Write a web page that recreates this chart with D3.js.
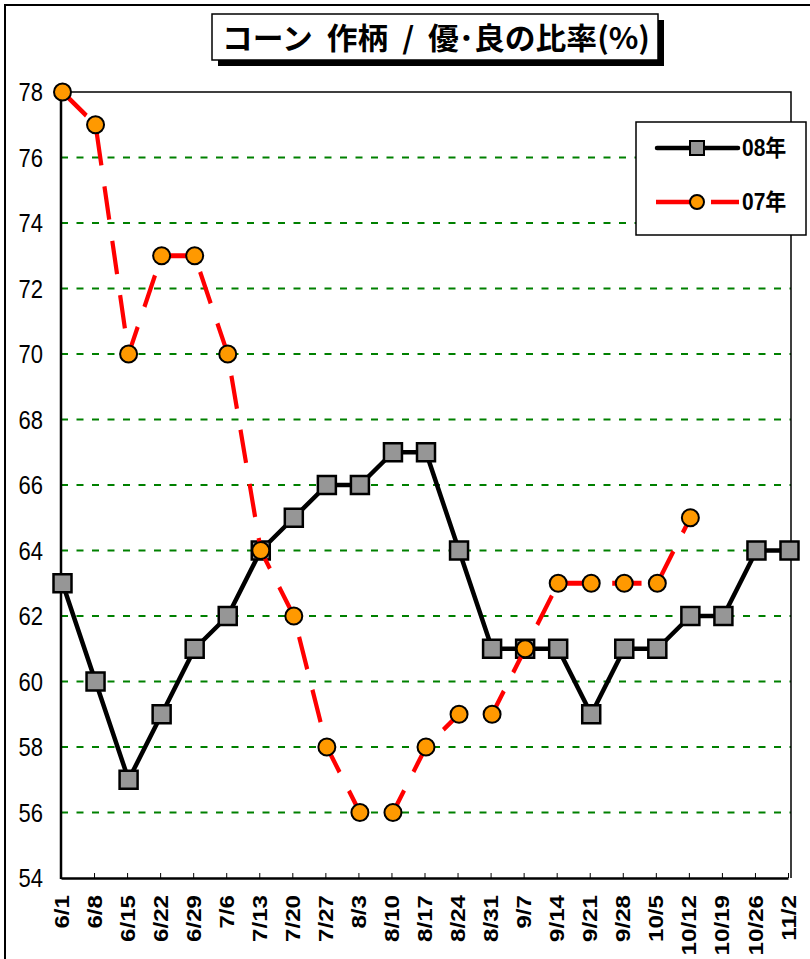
<!DOCTYPE html>
<html>
<head>
<meta charset="utf-8">
<script src="https://cdn.jsdelivr.net/npm/d3@7"></script>
<style>
    body { margin: 0; background: #fff; }
    svg { display: block; }
    .ylab { font-family: "Liberation Sans", Arial, sans-serif; font-size: 22px; }
    .xlab { font-family: "Liberation Sans", Arial, sans-serif; font-size: 21px; font-weight: bold; }
    .leg { font-family: "Liberation Sans", "Noto Sans CJK JP", sans-serif; font-size: 21px; font-weight: bold; }
</style>
</head>
<body>
<svg width="810" height="959"></svg>
<script>
// week labels on the x axis
var categories = ["6/1", "6/8", "6/15", "6/22", "6/29", "7/6", "7/13", "7/20", "7/27", "8/3", "8/10",
    "8/17", "8/24", "8/31", "9/7", "9/14", "9/21", "9/28", "10/5", "10/12", "10/19", "10/26", "11/2"];
var yTicks = [54, 56, 58, 60, 62, 64, 66, 68, 70, 72, 74, 76, 78];
var values08 = [63, 60, 57, 59, 61, 62, 64, 65, 66, 66, 67, 67, 64, 61, 61, 61, 59, 61, 61, 62, 62, 64, 64];
var values07 = [78, 77, 70, 73, 73, 70, 64, 62, 58, 56, 56, 58, 59, 59, 61, 63, 63, 63, 63, 65, null, null, null];
var seriesNames = ["08年", "07年"];
var titleText = "コーン  作柄  /  優･良の比率(%)";

var svg, plot, xScale, yScale;
var margin = {top: 92, right: 19, bottom: 81, left: 61};
var width, height;
// the original picture is a bit taller than it was drawn, text and dashes look stretched
var stretch = 1.15;

function initLayout() {
    svg = d3.select("svg");
    width = +svg.attr("width") - margin.left - margin.right;
    height = +svg.attr("height") - margin.top - margin.bottom;

    xScale = d3.scalePoint().domain(categories).range([1.5, width - 1.5]).padding(0);
    yScale = d3.scaleLinear().domain([54, 78]).range([height, 0]);

    // outer chart frame (runs off the right/bottom edge like the original)
    svg.append("rect")
        .attr("x", 5).attr("y", 5)
        .attr("width", 830).attr("height", 980)
        .attr("fill", "#fff")
        .attr("stroke", "#000")
        .attr("stroke-width", 2);

    plot = svg.append("g")
        .attr("transform", "translate(" + [margin.left, margin.top] + ")");
}

function drawTitle() {
    var bx = 212, by = 14, bw = 446, bh = 46;
    // shadow
    svg.append("rect")
        .attr("x", bx + 6).attr("y", by + 6)
        .attr("width", bw).attr("height", bh)
        .attr("fill", "#000");
    svg.append("rect")
        .attr("x", bx).attr("y", by)
        .attr("width", bw).attr("height", bh)
        .attr("fill", "#fff")
        .attr("stroke", "#000")
        .attr("stroke-width", 1.5);
    svg.append("text")
        .attr("transform", "translate(" + [bx + 10, by + 35] + ") scale(1," + stretch + ")")
        .attr("textLength", 428)
        .attr("lengthAdjust", "spacingAndGlyphs")
        .style("white-space", "pre")
        .style("font-family", "'Noto Sans CJK JP', sans-serif")
        .style("font-size", "26px")
        .style("font-weight", "bold")
        .text(titleText);
}

function drawAxes() {
    // y gridlines, green dashed
    plot.append("g")
        .selectAll("line")
        .data(yTicks.filter(function (d) { return d > 54 && d < 78; }))
        .enter().append("line")
        .attr("x1", 0).attr("x2", width)
        .attr("y1", function (d) { return yScale(d); })
        .attr("y2", function (d) { return yScale(d); })
        .attr("stroke", "#008000")
        .attr("stroke-width", 2.2)
        .attr("stroke-dasharray", "7,8.5");

    // top and right frame of the plot area
    plot.append("path")
        .attr("d", "M0,0H" + width + "V" + height)
        .attr("fill", "none")
        .attr("stroke", "#000")
        .attr("stroke-width", 1.5);

    // y labels
    plot.append("g")
        .selectAll("text")
        .data(yTicks)
        .enter().append("text")
        .attr("class", "ylab")
        .attr("transform", function (d) {
            return "translate(" + [-18, yScale(d)] + ") scale(1," + stretch + ")";
        })
        .attr("dy", "0.36em")
        .attr("text-anchor", "end")
        .text(function (d) { return d; });

    // x axis with ticks pointing up
    var xAxis = d3.axisBottom(xScale).tickSizeInner(-5).tickSizeOuter(0).tickFormat("");
    var xg = plot.append("g")
        .attr("transform", "translate(-1.5," + height + ")")
        .call(xAxis);
    xg.select(".domain").attr("stroke", "#000").attr("stroke-width", 2.5);
    xg.selectAll(".tick line").attr("stroke", "#000").attr("stroke-width", 1);

    plot.append("line")
        .attr("x1", 0).attr("x2", 0)
        .attr("y1", 0).attr("y2", height + 1)
        .attr("stroke", "#000")
        .attr("stroke-width", 2.5);

    plot.append("g")
        .selectAll("text")
        .data(categories)
        .enter().append("text")
        .attr("class", "xlab")
        .attr("transform", function (d) {
            return "translate(" + [xScale(d) - 1.5, height + 17] + ") rotate(-90) scale(" + stretch + ",1)";
        })
        .attr("dy", "0.36em")
        .attr("text-anchor", "end")
        .text(function (d) { return d; });
}

function plotData() {
    var pts08 = categories.map(function (c, i) { return {x: xScale(c), y: yScale(values08[i])}; });
    var pts07 = [];
    categories.forEach(function (c, i) {
        if (values07[i] != null) pts07.push({x: xScale(c), y: yScale(values07[i])});
    });

    plot.append("path")
        .datum(pts08)
        .attr("d", d3.line().x(function (d) { return d.x; }).y(function (d) { return d.y; }))
        .attr("fill", "none")
        .attr("stroke", "#000")
        .attr("stroke-width", 4.5)
        .attr("stroke-linejoin", "round");

    plot.selectAll(".sq")
        .data(pts08)
        .enter().append("rect")
        .attr("class", "sq")
        .attr("x", function (d) { return d.x - 9; })
        .attr("y", function (d) { return d.y - 9; })
        .attr("width", 18).attr("height", 18)
        .attr("fill", "#969696")
        .attr("stroke", "#000")
        .attr("stroke-width", 2.5);

    // 07: one continuous dashed path, drawn in the unstretched frame so the dashes line up
    plot.append("g")
        .attr("transform", "scale(1," + stretch + ")")
        .append("path")
        .datum(pts07)
        .attr("d", d3.line().x(function (d) { return d.x; }).y(function (d) { return d.y / stretch; }))
        .attr("fill", "none")
        .attr("stroke", "#ff0000")
        .attr("stroke-width", 4.2)
        .attr("stroke-dasharray", "29.3,18.6")
        .attr("stroke-dashoffset", 45.7);

    plot.selectAll(".cir")
        .data(pts07)
        .enter().append("circle")
        .attr("class", "cir")
        .attr("cx", function (d) { return d.x; })
        .attr("cy", function (d) { return d.y; })
        .attr("r", 8.5)
        .attr("fill", "#ff9900")
        .attr("stroke", "#000")
        .attr("stroke-width", 2);
}

function drawLegend() {
    var lg = svg.append("g").attr("transform", "translate(636,122)");
    lg.append("rect")
        .attr("width", 170).attr("height", 113)
        .attr("fill", "#fff")
        .attr("stroke", "#000")
        .attr("stroke-width", 1.5);

    // 08
    lg.append("line")
        .attr("x1", 21).attr("x2", 102).attr("y1", 26).attr("y2", 26)
        .attr("stroke", "#000").attr("stroke-width", 4.5).attr("stroke-linecap", "round");
    lg.append("rect")
        .attr("x", 61 - 7).attr("y", 26 - 7).attr("width", 14).attr("height", 14)
        .attr("fill", "#969696").attr("stroke", "#000").attr("stroke-width", 2);
    lg.append("text").attr("class", "leg")
        .attr("transform", "translate(106,26) scale(1,1.1)")
        .attr("dy", "0.36em")
        .text(seriesNames[0]);

    // 07
    lg.append("line")
        .attr("x1", 20).attr("x2", 103).attr("y1", 80).attr("y2", 80)
        .attr("stroke", "#ff0000").attr("stroke-width", 4.5)
        .attr("stroke-dasharray", "48,7,30,100");
    lg.append("circle")
        .attr("cx", 61).attr("cy", 80).attr("r", 7)
        .attr("fill", "#ff9900").attr("stroke", "#000").attr("stroke-width", 2);
    lg.append("text").attr("class", "leg")
        .attr("transform", "translate(106,80) scale(1,1.1)")
        .attr("dy", "0.36em")
        .text(seriesNames[1]);
}

initLayout();
drawTitle();
drawAxes();
plotData();
drawLegend();
</script>
</body>
</html>
